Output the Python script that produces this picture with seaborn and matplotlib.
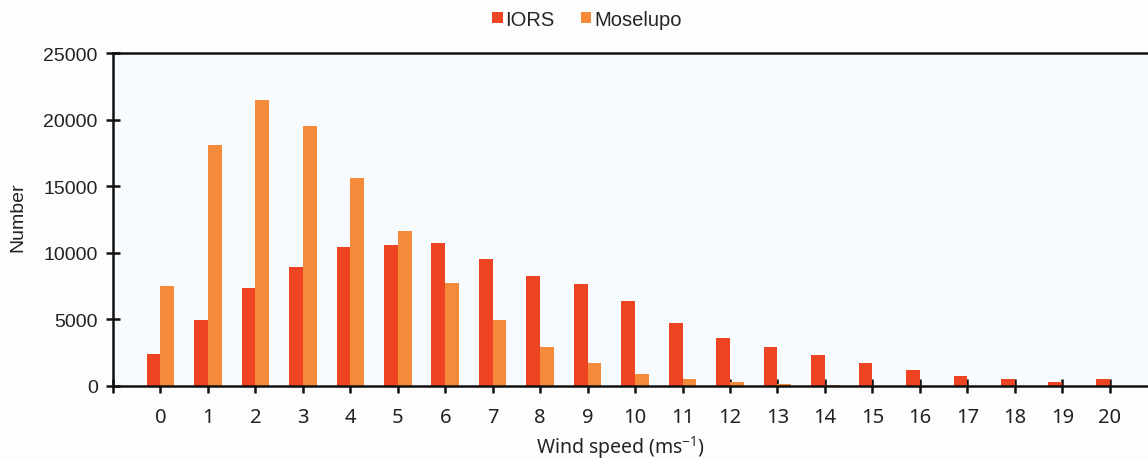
import matplotlib
matplotlib.use("Agg")
import matplotlib.pyplot as plt
from matplotlib.patches import Patch
import numpy as np
import pandas as pd
import seaborn as sns

# Wind speed classes (m/s) and counts per station
wind_speed = [str(v) for v in range(21)]
iors = [2420, 4950, 7350, 8900, 10400, 10600, 10700, 9550, 8250, 7650,
        6350, 4750, 3600, 2900, 2300, 1700, 1200, 720, 500, 270, 500]
moselupo = [7500, 18100, 21500, 19550, 15650, 11600, 7750, 4950, 2950, 1720,
            920, 550, 300, 150, 60, 30, 15, 10, 8, 5, 5]
series_names = ["IORS", "Moselupo"]
colors = ["#EE4422", "#F58A3A"]
y_ticks = [0, 5000, 10000, 15000, 20000, 25000]

df = pd.DataFrame({
    "speed": wind_speed * 2,
    "count": iors + moselupo,
    "station": [series_names[0]] * len(iors) + [series_names[1]] * len(moselupo),
})

sns.set_theme(style="white")
plt.rcParams["font.family"] = ["Liberation Sans", "DejaVu Sans"]

fig = plt.figure(figsize=(11.48, 4.6), dpi=100, facecolor="#FDFDFD")
ax = fig.add_axes([0.0984, 0.1587, 0.9096, 0.7239])
ax.set_facecolor("#F7FBFD")

sns.barplot(data=df, x="speed", y="count", hue="station", order=wind_speed,
            hue_order=series_names, palette=colors, width=0.58, gap=0,
            saturation=1, errorbar=None, legend=False, linewidth=0,
            edgecolor="none", ax=ax)

ax.set_xlim(-1, 21)
ax.set_ylim(0, 25000)
ax.set_yticks(y_ticks)
ax.set_yticklabels([str(t) for t in y_ticks], fontsize=14, color="#222222")
ax.set_xticks(list(range(-1, 21)))
ax.set_xticklabels([""] + wind_speed, fontsize=14.5, color="#222222",
                   family=["Noto Sans", "DejaVu Sans"])

for side in ["left", "bottom", "top"]:
    ax.spines[side].set_visible(True)
    ax.spines[side].set_color("#111111")
    ax.spines[side].set_linewidth(1.8)
ax.spines["right"].set_visible(False)

ax.tick_params(axis="x", direction="inout", length=10, width=1.8,
               color="#111111", pad=10, bottom=True)
ax.tick_params(axis="y", direction="inout", length=10, width=1.8,
               color="#111111", pad=6, left=True)

ax.set_xlabel("Wind speed (ms$^{\\mathregular{-1}}$)", fontsize=14,
              color="#222222", family=["Noto Sans", "DejaVu Sans"])
ax.xaxis.set_label_coords(0.5 - 15 / 1044, -0.142)
ax.set_ylabel("Number", fontsize=14, color="#222222")
ax.yaxis.set_label_coords(-0.083, 0.51)

handles = [Patch(facecolor=c, edgecolor="none", label=n)
           for c, n in zip(colors, series_names)]
fig.legend(handles=handles, loc="center", bbox_to_anchor=(587 / 1148, 1 - 20 / 460),
           ncol=2, frameon=False, fontsize=14.5, handlelength=0.5,
           handleheight=0.5, handletextpad=0.15, columnspacing=1.3)

fig.savefig("out.png", dpi=100, facecolor=fig.get_facecolor())
